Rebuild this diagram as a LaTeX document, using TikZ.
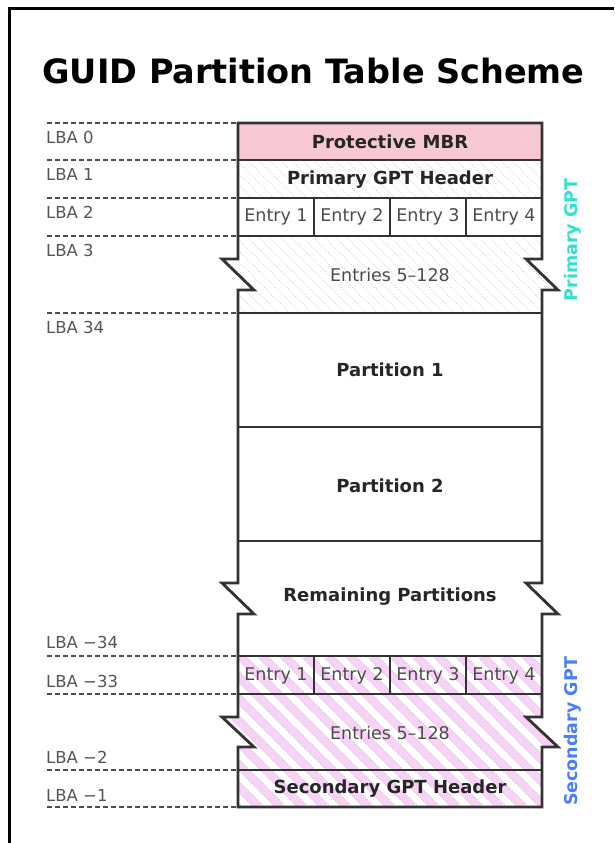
\documentclass[tikz,border=0pt]{standalone}
\usepackage{fontspec}
\setmainfont{DejaVu Sans}
\definecolor{mbrpink}{HTML}{F8C8D2}
\definecolor{secpink}{HTML}{F9D2F7}
\definecolor{pricyan}{HTML}{30E0D0}
\definecolor{secblue}{HTML}{4A7EFF}
\definecolor{edgecol}{HTML}{333333}
\definecolor{lblgray}{HTML}{555555}
\tikzset{
 boldlbl/.style={font=\fontsize{18}{20}\selectfont\bfseries, text=black!85},
 entrylbl/.style={font=\fontsize{17.5}{20}\selectfont, text=black!70},
 lbalbl/.style={font=\fontsize{16.5}{20}\selectfont, text=lblgray, anchor=base west, inner sep=0pt},
 lbaline/.style={draw=black!70, line width=1.2pt, dash pattern=on 5pt off 3pt},
 rowline/.style={draw=edgecol, line width=1.5pt},
 midrow/.style={draw=edgecol, line width=2pt},
 thickrow/.style={draw=edgecol, line width=2.8pt},
 sidelbl/.style={font=\fontsize{17.5}{20}\selectfont\bfseries, rotate=90},
 hatchline/.style={draw=black!22, line width=0.6pt, dash pattern=on 1pt off 1.5pt},
}
\begin{document}
\begin{tikzpicture}[x=1pt,y=-1pt]
\useasboundingbox (0,0) rectangle (614,843);
% outer frame
\draw[line width=3pt] (9,843) -- (9,8.5) -- (614,8.5);
% title
\node[font=\fontsize{33.5}{36}\selectfont\bfseries, anchor=base] (title) at (313.5,84) {GUID Partition Table Scheme};

% fills
\fill[mbrpink] (238,123) rectangle (542,160);
\begin{scope}
\clip (238,160) -- (542,160) -- (542,259) -- (526,259) -- (558,290) -- (542,290) -- (542,313) -- (238,313) -- (238,290) -- (254,290) -- (222,259) -- (238,259) -- cycle;
\foreach \x in {60,71,...,570} \draw[hatchline] (\x,160) -- ++(153,153);
\fill[white] (238,198) rectangle (542,236);
\end{scope}
\begin{scope}
\clip (238,656) -- (542,656) -- (542,717) -- (526,717) -- (558,747) -- (542,747) -- (542,807) -- (238,807) -- (238,747) -- (254,747) -- (222,717) -- (238,717) -- cycle;
\foreach \x in {64,86,...,580} {
  \draw[secpink, line width=8pt] (\x,656) -- ++(151,151);
  \draw[hatchline] (\x+5.6,656) -- ++(151,151);
  \draw[hatchline] (\x-5.6,656) -- ++(151,151);
}
\end{scope}

% row lines
\draw[midrow] (238,160) -- (542,160);
\draw[rowline] (238,198) -- (542,198);
\draw[rowline] (238,236) -- (542,236);
\draw[thickrow] (238,313) -- (542,313);
\draw[midrow] (238,427) -- (542,427);
\draw[midrow] (238,541) -- (542,541);
\draw[thickrow] (238,656) -- (542,656);
\draw[rowline] (238,694) -- (542,694);
\draw[rowline] (238,770) -- (542,770);
\foreach \x in {314,390,466} {
  \draw[rowline] (\x,198) -- (\x,236);
  \draw[rowline] (\x,656) -- (\x,694);
}

% outline
\draw[draw=edgecol, line width=2.8pt, line join=miter]
 (238,123) -- (542,123) -- (542,259) -- (526,259) -- (558,290) -- (542,290)
 -- (542,583) -- (526,583) -- (558,614) -- (542,614)
 -- (542,717) -- (526,717) -- (558,747) -- (542,747)
 -- (542,807) -- (238,807)
 -- (238,747) -- (254,747) -- (222,717) -- (238,717)
 -- (238,614) -- (254,614) -- (222,583) -- (238,583)
 -- (238,290) -- (254,290) -- (222,259) -- (238,259) -- cycle;

% LBA guides
\foreach \y in {123,160,198,236,313,656,694,770,807}
  \draw[lbaline] (47,\y) -- (237,\y);
\node[lbalbl] (lba0) at (46,143) {LBA 0};
\node[lbalbl] (lba1) at (46,180.5) {LBA 1};
\node[lbalbl] (lba2) at (46,218.5) {LBA 2};
\node[lbalbl] (lba3) at (46,256) {LBA 3};
\node[lbalbl] (lba34) at (46,333) {LBA 34};
\node[lbalbl] (lbam34) at (46,648) {LBA −34};
\node[lbalbl] (lbam33) at (46,687) {LBA −33};
\node[lbalbl] (lbam2) at (46,763) {LBA −2};
\node[lbalbl] (lbam1) at (46,801.5) {LBA −1};

% block labels
\node[boldlbl] (mbr) at (390,141.5) {Protective MBR};
\node[boldlbl] (phdr) at (390,180) {Primary GPT Header};
\node[entrylbl] (pe1) at (276,217) {Entry 1};
\node[entrylbl] (pe2) at (352,217) {Entry 2};
\node[entrylbl] (pe3) at (428,217) {Entry 3};
\node[entrylbl] (pe4) at (504,217) {Entry 4};
\node[entrylbl] (prest) at (390,275) {Entries 5–128};
\node[boldlbl] (part1) at (390,370) {Partition 1};
\node[boldlbl] (part2) at (390,486) {Partition 2};
\node[boldlbl] (remain) at (390,597) {Remaining Partitions};
\node[entrylbl] (se1) at (276,675.5) {Entry 1};
\node[entrylbl] (se2) at (352,675.5) {Entry 2};
\node[entrylbl] (se3) at (428,675.5) {Entry 3};
\node[entrylbl] (se4) at (504,675.5) {Entry 4};
\node[entrylbl] (srest) at (390,733) {Entries 5–128};
\node[boldlbl] (shdr) at (390,789) {Secondary GPT Header};

% side labels
\node[sidelbl, text=pricyan] (pgpt) at (573,240) {Primary GPT};
\node[sidelbl, text=secblue] (sgpt) at (573,731.5) {Secondary GPT};
\end{tikzpicture}
\end{document}
